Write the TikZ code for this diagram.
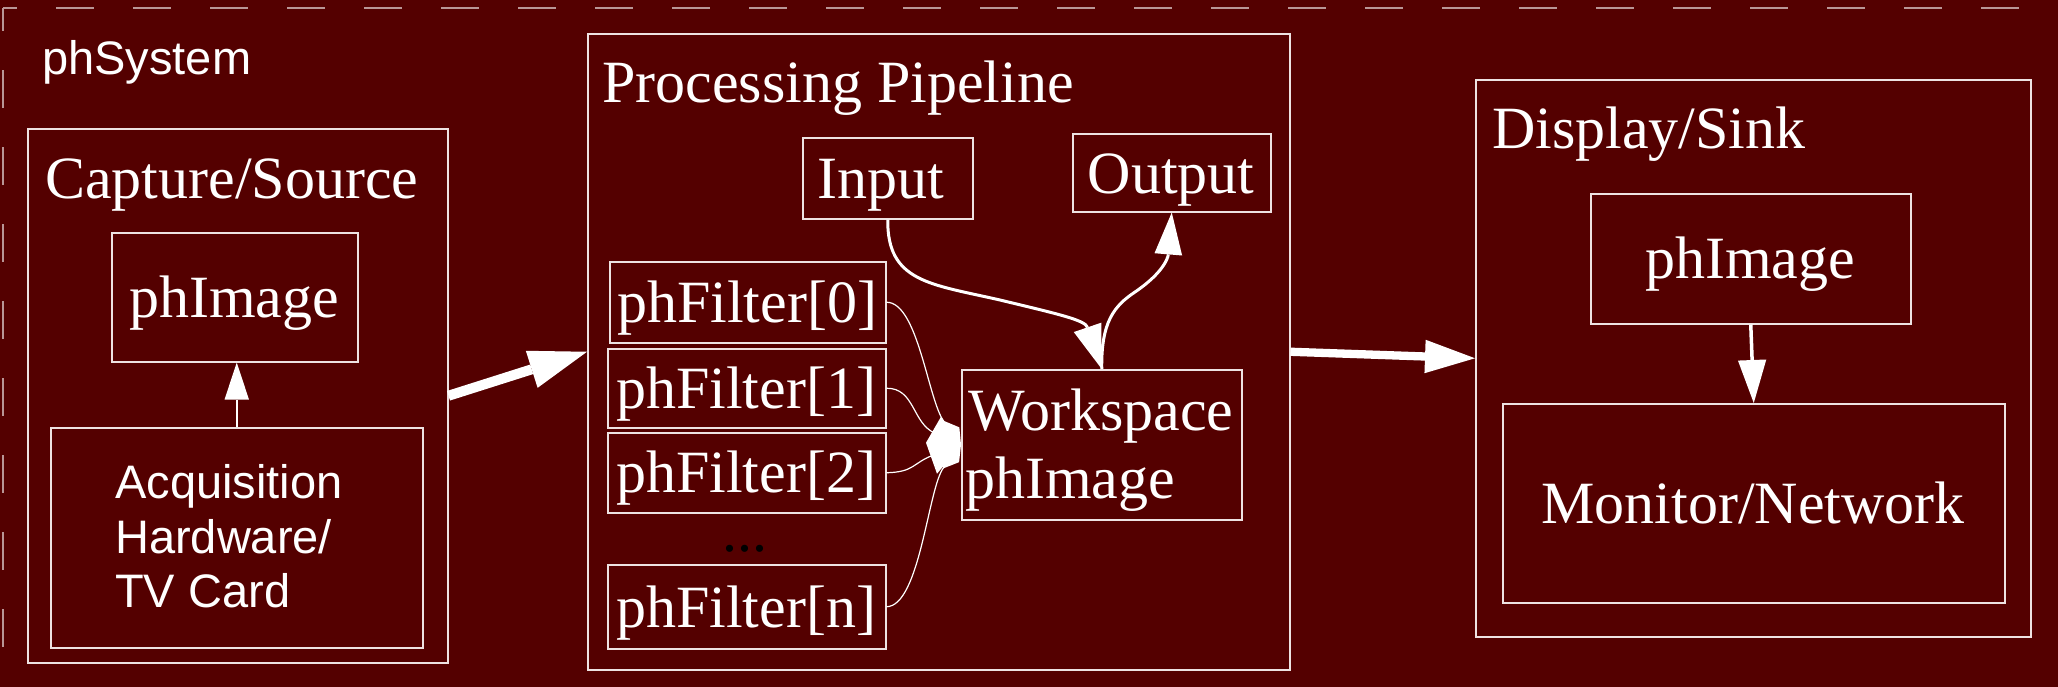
\documentclass[tikz,border=0pt]{standalone}
\usepackage{fontspec}
\setmainfont{Liberation Serif}
\newfontfamily\sansf{Liberation Sans}
\usetikzlibrary{arrows.meta}
\definecolor{bg}{RGB}{84,0,0}
\definecolor{ln}{RGB}{238,226,226}
\definecolor{dashc}{RGB}{185,150,150}
\begin{document}
\begin{tikzpicture}[x=1pt,y=-1pt,
  box/.style={draw=ln,line width=1.5pt,inner sep=0pt,anchor=north west},
  ser/.style={text=white,inner sep=0pt,font=\fontsize{60}{68}\selectfont},
  san/.style={text=white,inner sep=0pt,anchor=base west,font=\sansf\fontsize{47}{55}\selectfont},
  bigarrow/.style={draw=white,-{Triangle[length=#1,width=0.67*#1,line width=0pt]}},
  thinarrow/.style={draw=white,-{Triangle[length=#1,width=0.66*#1,line width=0pt]}},
  filt/.style={draw=white,line width=1.2pt,-{Diamond[length=30pt,width=18pt,line width=0pt]}},
  outerdash/.style={draw=dashc,line width=2pt,dash pattern=on 38pt off 39pt}]
\useasboundingbox (0,0) rectangle (2058,686);
\fill[bg] (-2,-2) rectangle (2060,688);
% outer dashed cluster (phSystem)
\draw[outerdash,dash phase=24pt] (3,8) -- (2058,8);
\draw[outerdash,dash phase=15pt] (3,8) -- (3,686);
\node[san] (sysL) at (42,74) {phSystem};

% Capture/Source cluster
\node[box,minimum width=420pt,minimum height=534pt] (cap) at (27,128) {};
\node[ser,anchor=base west] (capL) at (45,198) {Capture/Source};
\node[box,minimum width=246pt,minimum height=129pt] (cimg) at (111,232) {};
\node[ser,anchor=base] (cimgT) at (234,317) {phImage};
\node[box,minimum width=372pt,minimum height=220pt] (acq) at (50,427) {};
\node[san] (acqT1) at (115,498) {Acquisition};
\node[san] (acqT2) at (115,553) {Hardware/};
\node[san] (acqT3) at (115,607) {TV Card};

% Processing Pipeline cluster
\node[box,minimum width=702pt,minimum height=636pt] (proc) at (587,33) {};
\node[ser,anchor=base west] (procL) at (602,102) {Processing Pipeline};
\node[box,minimum width=170pt,minimum height=81pt] (inp) at (802,137) {};
\node[ser,anchor=base] (inpT) at (881,198) {Input};
\node[box,minimum width=198pt,minimum height=78pt] (out) at (1072,133) {};
\node[ser,anchor=base] (outT) at (1171,193) {Output};
\node[box,minimum width=276pt,minimum height=81pt] (f0) at (609,261) {};
\node[ser,anchor=base] (f0T) at (747,322) {phFilter[0]};
\node[box,minimum width=278pt,minimum height=79pt] (f1) at (607,348) {};
\node[ser,anchor=base] (f1T) at (746,408) {phFilter[1]};
\node[box,minimum width=278pt,minimum height=80pt] (f2) at (607,432) {};
\node[ser,anchor=base] (f2T) at (746,492) {phFilter[2]};
\node[ser,anchor=base,text=black] (dots) at (745,551) {...};
\node[box,minimum width=278pt,minimum height=84pt] (fn) at (607,564) {};
\node[ser,anchor=base] (fnT) at (746,627) {phFilter[n]};
\node[box,minimum width=280pt,minimum height=150pt] (ws) at (961,369) {};
\node[ser,anchor=base west] (wsT1) at (968,430) {Workspace};
\node[ser,anchor=base west] (wsT2) at (965,498) {phImage};

% Display/Sink cluster
\node[box,minimum width=555pt,minimum height=557pt] (disp) at (1475,79) {};
\node[ser,anchor=base west] (dispL) at (1492,148) {Display/Sink};
\node[box,minimum width=320pt,minimum height=130pt] (dimg) at (1590,193) {};
\node[ser,anchor=base] (dimgT) at (1750,278) {phImage};
\node[box,minimum width=502pt,minimum height=199pt] (mon) at (1502,403) {};
\node[ser,anchor=base] (monT) at (1753,523) {Monitor/Network};

% connectors
\draw[line width=1.5pt,thinarrow=37pt] (acq.north) -- (acq.north |- cimg.south);
\draw[line width=10pt,bigarrow=58pt] (cap.east) -- (proc.west);
\draw[line width=8.3pt,bigarrow=50pt] (proc.east) -- (disp.west);
\draw[line width=3.5pt,thinarrow=43pt] (dimg.south) -- (mon.north);
\draw[line width=3pt,thinarrow=44pt] (inp.south) .. controls (887,282) and (930,284) .. (1000,300)
   .. controls (1058,314) and (1085,320) .. (ws.north);
\draw[line width=3pt,thinarrow=42pt] (ws.north) .. controls (1101,322) and (1114,306) .. (1135,292)
   .. controls (1163,273) and (1168,258) .. (out.south);
\draw[filt] (f0.east) .. controls (918,302) and (928,400) .. (ws.west);
\draw[filt] (f1.east) .. controls (915,388) and (912,423) .. (ws.west);
\draw[filt] (f2.east) .. controls (915,472) and (912,463) .. (ws.west);
\draw[filt] (fn.east) .. controls (920,606) and (928,488) .. (ws.west);
% merged diamond heads of the filter edges
\fill[white] (ws.west) -- ++(-20,-28) -- ++(-15,26) -- ++(11,31) -- cycle;
\end{tikzpicture}
\end{document}
